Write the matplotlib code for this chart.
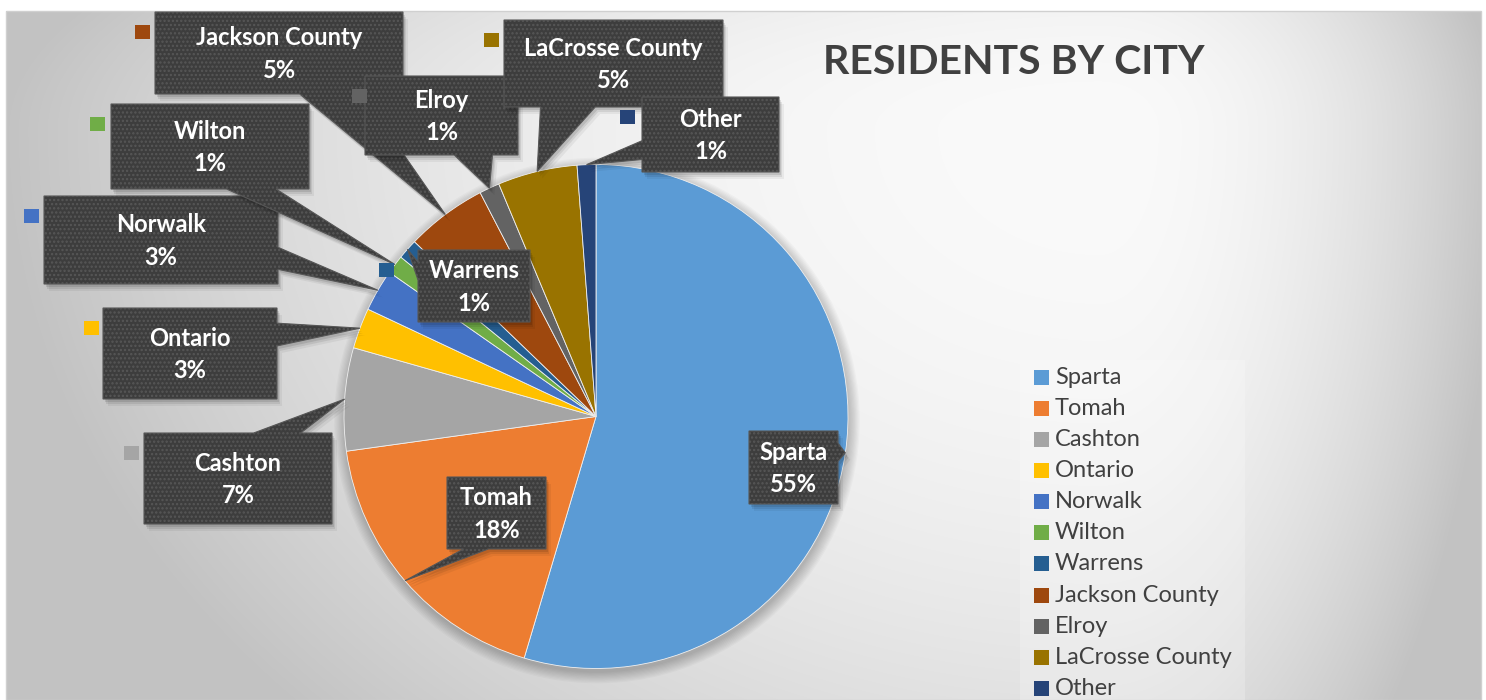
import numpy as np
import matplotlib
matplotlib.use('Agg')
import matplotlib.pyplot as plt
from matplotlib.patches import Polygon, Rectangle, Circle

# ---------------- data ----------------
categories = ['Sparta', 'Tomah', 'Cashton', 'Ontario', 'Norwalk', 'Wilton',
              'Warrens', 'Jackson County', 'Elroy', 'LaCrosse County', 'Other']
shares = [54.6, 18.2, 6.6, 2.6, 2.7, 1.2, 1.3, 5.2, 1.3, 5.1, 1.2]
colors = ['#5B9BD5', '#ED7D31', '#A5A5A5', '#FFC000', '#4472C4', '#70AD47',
          '#255E91', '#9E480E', '#636363', '#997300', '#264478']
title = 'RESIDENTS BY CITY'

# ---------------- layout (pixels, y downward) ----------------
W, H = 1486, 700
pie_center_px = (596, 416.5)
pie_radius = 252
# label boxes: left, top, right, bottom
label_boxes = [
    (749, 431, 838, 504),   # Sparta
    (447, 477, 546, 549),   # Tomah
    (144, 433, 332, 524),   # Cashton
    (103, 308, 277, 399),   # Ontario
    (44, 196, 278, 284),    # Norwalk
    (111, 104, 309, 189),   # Wilton
    (418, 250, 530, 322),   # Warrens
    (155, 12, 403, 94),     # Jackson County
    (365, 76, 518, 155),    # Elroy
    (504, 20, 723, 107),    # LaCrosse County
    (642, 97, 779, 172),    # Other
]
key_dx = [20, 20, 20, 19, 20, 21, 39, 20, 13, 20, 22]

plt.rcParams['font.family'] = ['Lato', 'DejaVu Sans']
plt.rcParams['hatch.linewidth'] = 1.1

fig = plt.figure(figsize=(W / 100, H / 100), dpi=100, facecolor='white')
ax = fig.add_axes([0, 0, 1, 1])


def Y(py):
    return H - py


# ---------------- background gradient ----------------
x0, x1, y0, y1 = 6, 1481, 11, 700
xs = np.arange(x0, x1) + 0.5
ys = np.arange(y0, y1) + 0.5
XX, YY = np.meshgrid(xs, ys)
gcx, gcy = 1100, 130
u = np.where(XX < gcx, (XX - gcx) / 1100.0, (XX - gcx) / 400.0)
v = np.where(YY < gcy, (YY - gcy) / 330.0, (YY - gcy) / 850.0)
d = np.clip(np.sqrt(u ** 2 + v ** 2), 0, 1)
val = (250 - 56 * d ** 2.1) / 255.0
img = np.dstack([val, val, val])
ax.imshow(img, extent=(x0, x1, Y(y1), Y(y0)), origin='upper', zorder=0,
          interpolation='bilinear')
ax.add_patch(Rectangle((x0, Y(y1)), x1 - x0, y1 - y0, fill=False,
                       edgecolor='#d0d0d0', lw=1, zorder=0.5))

# ---------------- pie ----------------
cx, cy = pie_center_px[0], Y(pie_center_px[1])
for k in range(10):
    ax.add_patch(Circle((cx + 1, cy - 4), pie_radius + k * 1.2, color='black',
                        alpha=0.022, lw=0, zorder=1))
wedges, _ = ax.pie(shares, colors=colors, startangle=90, counterclock=False,
                   center=(cx, cy), radius=pie_radius,
                   wedgeprops=dict(edgecolor='#f0f0f0', linewidth=0.6))
for w in wedges:
    w.set_zorder(2)


def callout(l, t, r, b, tx, ty):
    w = r - l
    h = b - t
    ccx = (l + r) / 2
    ccy = (t + b) / 2
    if l <= tx <= r and t <= ty <= b:
        return [(l, t), (r, t), (r, b), (l, b)]
    dx = tx - ccx
    dy = ty - ccy
    dq = dx * h / w
    if abs(dy) > abs(dq):
        xa = l + w * (7 if dx > 0 else 2) / 12
        xb = l + w * (10 if dx > 0 else 5) / 12
        if dy < 0:
            return [(l, t), (xa, t), (tx, ty), (xb, t), (r, t), (r, b), (l, b)]
        return [(l, t), (r, t), (r, b), (xb, b), (tx, ty), (xa, b), (l, b)]
    ya = t + h * (7 if dy > 0 else 2) / 12
    yb = t + h * (10 if dy > 0 else 5) / 12
    if dx > 0:
        return [(l, t), (r, t), (r, ya), (tx, ty), (r, yb), (r, b), (l, b)]
    return [(l, t), (r, t), (r, b), (l, b), (l, yb), (tx, ty), (l, ya)]


for i, (w, name, val_, col, box) in enumerate(zip(wedges, categories, shares,
                                                   colors, label_boxes)):
    mid = np.deg2rad((w.theta1 + w.theta2) / 2)
    tx = cx + pie_radius * np.cos(mid)
    ty = cy + pie_radius * np.sin(mid)
    l, t, r, b = box
    pts = callout(l, t, r, b, tx, H - ty)
    z = 10 + i * 2
    for off, al in [((2, 3), 0.10), ((3, 5), 0.08), ((5, 7), 0.05)]:
        ax.add_patch(Polygon([(px + off[0], Y(py + off[1])) for px, py in pts],
                             closed=True, facecolor='black', edgecolor='none',
                             alpha=al, zorder=z))
    ax.add_patch(Polygon([(px, Y(py)) for px, py in pts], closed=True,
                         facecolor='#3d3d3d', edgecolor='#575757', lw=0.8,
                         hatch='....', zorder=z + 0.5))
    ax.add_patch(Rectangle((l - key_dx[i], Y(t + 12.5 + 14.5)), 14.5, 14.5,
                           facecolor=col, edgecolor='none', zorder=z + 0.6))
    ax.text((l + r) / 2, Y((t + b) / 2 + 1), f'{name}\n{round(val_)}%',
            ha='center', va='center', color='white', fontsize=17,
            fontweight='bold', linespacing=1.5, zorder=z + 0.7)

# ---------------- title ----------------
ax.text(1014, Y(63), title, ha='center', va='center', fontsize=29.5,
        fontweight='bold', color='#404040', zorder=40)

# ---------------- legend ----------------
ax.add_patch(Rectangle((1020, Y(705)), 225, 345, facecolor='white',
                       edgecolor='none', alpha=0.22, zorder=30))
for i, (name, col) in enumerate(zip(categories, colors)):
    yy = 377 + i * 31.15
    ax.add_patch(Rectangle((1034, Y(yy + 7.5)), 15, 15, facecolor=col,
                           edgecolor='none', zorder=31))
    ax.text(1055, Y(yy), name, ha='left', va='center', fontsize=17,
            color='#404040', zorder=31)

ax.set_xlim(0, W)
ax.set_ylim(0, H)
ax.set_aspect('auto')
ax.axis('off')
fig.savefig('out.png', dpi=100, facecolor='white')
